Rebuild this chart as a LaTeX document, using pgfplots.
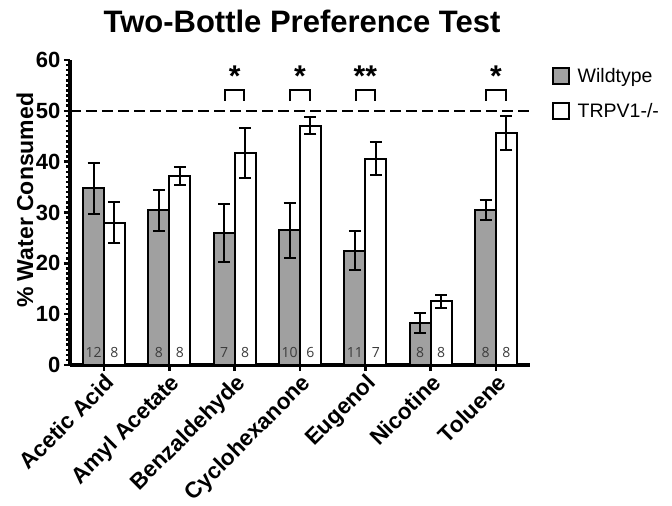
\documentclass[border=0pt]{standalone}
\usepackage{pgfplots}
\pgfplotsset{compat=1.18}
\usepackage{fontspec}
\setmainfont{Liberation Sans}
\newfontfamily\countfont{Open Sans}
\definecolor{wtgray}{RGB}{160,160,160}
\definecolor{ntext}{RGB}{60,60,60}

\begin{document}
\begin{tikzpicture}
\useasboundingbox (-70pt,-141pt) rectangle (602pt,365pt);
\begin{axis}[
    at={(0pt,0pt)}, anchor=south west,
    scale only axis, width=460pt, height=305pt,
    xmin=-0.52, xmax=6.52, ymin=0, ymax=60,
    clip=false,
    axis x line*=bottom, axis y line*=left,
    axis line style={line width=3.5pt, -},
    xtick={0,...,6},
    xticklabels={Acetic Acid, Amyl Acetate, Benzaldehyde, Cyclohexanone, Eugenol, Nicotine, Toluene},
    ytick={0,10,...,60},
    minor y tick num=9,
    tick align=outside,
    major tick length=6pt, minor tick length=4pt,
    tick style={black, line width=2.5pt},
    /pgf/number format/assume math mode=true,
    yticklabel style={font=\bfseries\fontsize{22}{22}\selectfont},
    xticklabel style={rotate=45, anchor=north east, inner sep=1pt,
        font=\bfseries\fontsize{22.5}{22.5}\selectfont},
    ylabel={\% Water Consumed},
    ylabel style={font=\bfseries\fontsize{23}{23}\selectfont,
        at={(axis description cs:-0.098,0.54)}, anchor=center},
    legend style={at={(1.047,0.98)}, anchor=north west, draw=none, fill=none,
        inner sep=0pt, row sep=15pt, font=\fontsize{19.5}{19.5}\selectfont},
    legend cell align=left,
    legend image code/.code={\draw[#1, line width=1.8pt] (0pt,-8pt) rectangle (16pt,8pt);
        \path (22pt,0pt);},
    bar width=0.32,
  ]

  % 50% reference line
  \addplot[forget plot, black, line width=2.5pt, dash pattern=on 11pt off 5pt]
    coordinates {(-0.52,50) (6.52,50)};

  % wildtype
  \addplot[ybar, bar shift=0pt, fill=wtgray, draw=black, line width=2pt,
      error bars/.cd, y dir=both, y explicit,
      error bar style={line width=2pt, black},
      error mark options={rotate=90, mark size=6pt, line width=2pt, black}]
    coordinates {
      (-0.16,34.8) +- (0,5.0)
      (0.84,30.4) +- (0,4.0)
      (1.84,25.9) +- (0,5.7)
      (2.84,26.5) +- (0,5.4)
      (3.84,22.5) +- (0,3.8)
      (4.84,8.3)  +- (0,2.0)
      (5.84,30.5) +- (0,2.0)
    };
  \addlegendentry{Wildtype}

  % TRPV1 knockout
  \addplot[ybar, bar shift=0pt, fill=white, draw=black, line width=2pt,
      error bars/.cd, y dir=both, y explicit,
      error bar style={line width=2pt, black},
      error mark options={rotate=90, mark size=6pt, line width=2pt, black}]
    coordinates {
      (0.16,28.0) +- (0,4.0)
      (1.16,37.2) +- (0,1.8)
      (2.16,41.7) +- (0,5.0)
      (3.16,47.1) +- (0,1.7)
      (4.16,40.6) +- (0,3.3)
      (5.16,12.5) +- (0,1.35)
      (6.16,45.6) +- (0,3.4)
    };
  \addlegendentry{TRPV1-/-}

  % n per bar
  \addplot[forget plot, draw=none, mark=none, nodes near coords, point meta=explicit symbolic,
      nodes near coords style={anchor=south, inner sep=0pt, text=ntext,
        font=\countfont\fontsize{14}{14}\selectfont}]
    coordinates {
      (-0.16,1.4) [12] (0.16,1.4) [8]
      (0.84,1.4) [8]   (1.16,1.4) [8]
      (1.84,1.4) [7]   (2.16,1.4) [8]
      (2.84,1.4) [10]  (3.16,1.4) [6]
      (3.84,1.4) [11]  (4.16,1.4) [7]
      (4.84,1.4) [8]   (5.16,1.4) [8]
      (5.84,1.4) [8]   (6.16,1.4) [8]
    };

  % significance brackets
  \addplot[forget plot, black, line width=2pt, unbounded coords=jump]
    coordinates {
      (1.85,52) (1.85,54) (2.15,54) (2.15,52) (2.15,nan)
      (2.85,52) (2.85,54) (3.15,54) (3.15,52) (3.15,nan)
      (3.85,52) (3.85,54) (4.15,54) (4.15,52) (4.15,nan)
      (5.85,52) (5.85,54) (6.15,54) (6.15,52)
    };
  \addplot[forget plot, draw=none, mark=none, nodes near coords, point meta=explicit symbolic,
      nodes near coords style={anchor=north, inner sep=0pt,
        font=\bfseries\fontsize{30}{30}\selectfont}]
    coordinates {
      (2,58.8) [*]
      (3,58.8) [*]
      (4,58.8) [**]
      (6,58.8) [*]
    };
\end{axis}
\node[font=\bfseries\fontsize{31}{31}\selectfont, anchor=base] at (232pt,332pt)
  {Two-Bottle Preference Test};
\end{tikzpicture}
\end{document}
